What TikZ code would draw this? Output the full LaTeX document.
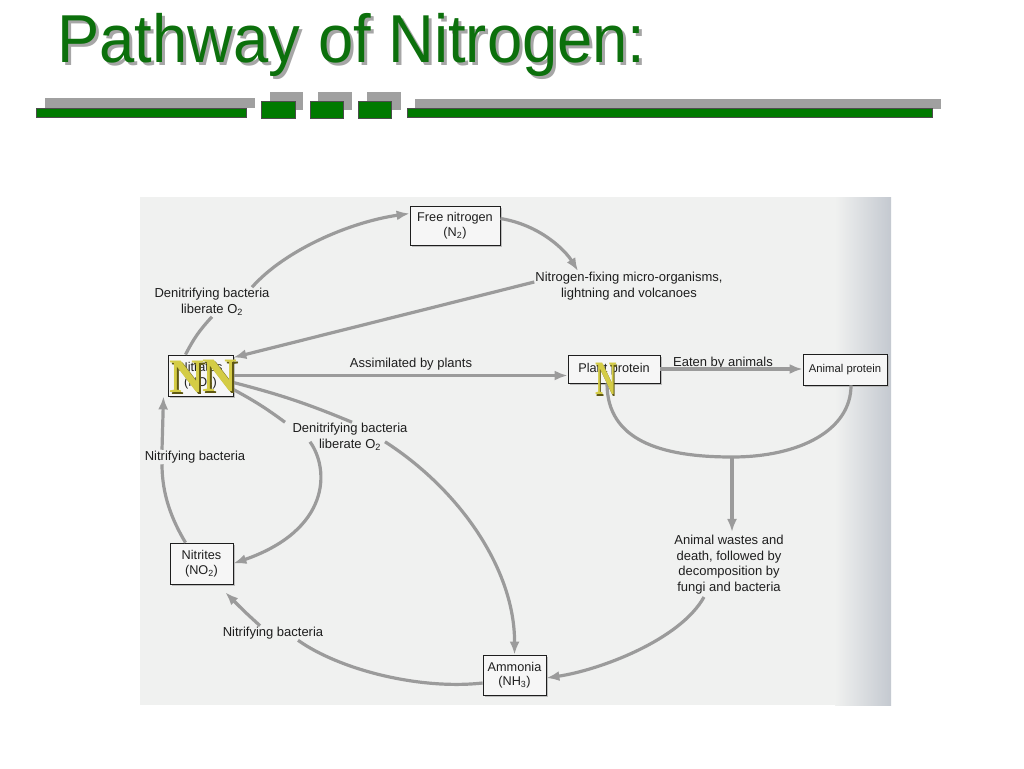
\documentclass[tikz,border=0pt]{standalone}
\usepackage{fontspec}
\setmainfont{Liberation Sans}
\newfontfamily\serifN{Liberation Serif}
\usetikzlibrary{arrows.meta,shadows}

\definecolor{titlegreen}{RGB}{12,112,12}
\definecolor{bargreen}{RGB}{0,122,0}
\definecolor{bargray}{RGB}{160,160,160}
\definecolor{arrowgray}{RGB}{155,155,155}
\definecolor{txt}{RGB}{30,30,30}
\definecolor{panel}{RGB}{240,241,240}
\definecolor{panelright}{RGB}{196,201,208}
\definecolor{Ngold}{RGB}{212,204,70}
\definecolor{Ndark}{RGB}{95,88,18}

\begin{document}
\begin{tikzpicture}[x=1pt,y=-1pt,
  box/.style={draw=txt, line width=0.8pt, fill={rgb,255:red,246;green,246;blue,246}, align=center,
    font=\fontsize{12.7}{14.5}\selectfont, text=txt, inner sep=2pt,
    drop shadow={shadow xshift=1.5pt,shadow yshift=-1.5pt,fill=gray!60,opacity=0.8}},
  lbl/.style={align=center, font=\fontsize{13}{15.5}\selectfont, text=txt, inner sep=1pt},
  flow/.style={draw=arrowgray, line width=3.2pt},
  arr/.style={flow, -{Latex[length=13pt,width=10pt]}},
  bigN/.style={font=\serifN\bfseries\fontsize{48}{48}\selectfont, inner sep=0pt}
]
\useasboundingbox (0,0) rectangle (1024,768);
\fill[white] (0,0) rectangle (1024,768);

% title
\node[anchor=base west, font=\fontsize{64}{70}\selectfont, text=gray!70, yscale=1.06, xscale=0.99] at (57,66) {Pathway of Nitrogen:};
\node[anchor=base west, font=\fontsize{64}{70}\selectfont, text=titlegreen, yscale=1.06, xscale=0.99] (title) at (54,63) {Pathway of Nitrogen:};

% decorative bars
\fill[bargray] (45,98) rectangle (255,108);
\fill[bargray] (270,92) rectangle (303,110);
\fill[bargray] (318,92) rectangle (352,110);
\fill[bargray] (367,92) rectangle (401,110);
\fill[bargray] (415,99) rectangle (941,109);
\filldraw[fill=bargreen, draw=black!70, line width=0.6pt] (36,108) rectangle (246,117);
\filldraw[fill=bargreen, draw=black!70, line width=0.6pt] (261,101) rectangle (295,118);
\filldraw[fill=bargreen, draw=black!70, line width=0.6pt] (310,101) rectangle (343,118);
\filldraw[fill=bargreen, draw=black!70, line width=0.6pt] (358,101) rectangle (391,118);
\filldraw[fill=bargreen, draw=black!70, line width=0.6pt] (407,108) rectangle (932,117);

% panel
\fill[panel] (140,197) rectangle (891,705);
\shade[left color=panel, right color=panelright] (835,197) rectangle (891,705);

% nodes
\node[box, minimum width=90pt, minimum height=39pt] (fn) at (455,225.5) {Free nitrogen\\(N\textsubscript{2})};
\node[lbl] (nfix) at (629,286) {Nitrogen-fixing micro-organisms,\\lightning and volcanoes};
\node[lbl] (den1) at (212,302) {Denitrifying bacteria\\liberate O\textsubscript{2}};
\node[box, minimum width=65pt, minimum height=41pt] (nitrates) at (200.5,375.5) {Nitrates\\(NO\textsubscript{3})};
\node[lbl] (assim) at (411,364) {Assimilated by plants};
\node[box, minimum width=92pt, minimum height=28pt] (plant) at (614,369) {Plant protein};
\node[lbl] (eaten) at (723,363) {Eaten by animals};
\node[box, minimum width=84pt, minimum height=31pt, font=\fontsize{11.3}{13}\selectfont] (animal) at (845,369.5) {Animal protein};
\node[lbl] (den2) at (350,437) {Denitrifying bacteria\\liberate O\textsubscript{2}};
\node[lbl] (nitr1) at (195,457) {Nitrifying bacteria};
\node[box, minimum width=63pt, minimum height=41pt] (nitrites) at (201.5,563.5) {Nitrites\\(NO\textsubscript{2})};
\node[lbl, inner sep=3pt] (wastes) at (729,564.5) {Animal wastes and\\death, followed by\\decomposition by\\fungi and bacteria};
\node[lbl] (nitr2) at (273,633) {Nitrifying bacteria};
\node[box, minimum width=63pt, minimum height=40pt] (ammonia) at (514.5,675) {Ammonia\\(NH\textsubscript{3})};
\coordinate (join) at (732,457);

% connectors
\draw[flow] ([xshift=-15pt]nitrates.north) to[bend left=8] (den1.south);
\draw[arr] ([xshift=40pt]den1.north) .. controls (285,250) and (350,222) .. ([yshift=12pt]fn.west);
\draw[arr] ([yshift=7pt]fn.east) .. controls (540,225) and (565,250) .. ([xshift=-51pt]nfix.north);
\draw[arr] ([yshift=4pt]nfix.west) -- ([yshift=18pt]nitrates.east);
\draw[arr] (nitrates.east) -- (nitrates.east -| plant.west);
\draw[arr] (plant.east) -- (plant.east -| animal.west);
\draw[flow] ([xshift=-7pt]plant.south) .. controls (607,440) and (660,457) .. (join)
  .. controls (800,457) and (851,430) .. ([xshift=6pt]animal.south);
\draw[arr] (join) -- (join |- wastes.north);
\draw[arr] ([xshift=-25pt]wastes.south) .. controls (680,640) and (600,670) .. ([yshift=-3pt]ammonia.east);
\draw[flow] ([yshift=-8pt]ammonia.west) .. controls (420,690) and (340,670) .. ([xshift=25pt]nitr2.south);
\draw[arr] ([xshift=-13pt]nitr2.north) .. controls (245,612) .. ([xshift=-8pt,yshift=-8pt]nitrites.south east);
\draw[flow] ([xshift=-16pt]nitrites.north) .. controls (172,520) and (162,495) .. ([xshift=-33pt]nitr1.south);
\draw[arr] ([xshift=-33pt]nitr1.north) -- ([xshift=-37pt]nitrates.south);
\draw[flow] ([yshift=-14pt]nitrates.east) to[bend left=4] ([xshift=-65pt]den2.north);
\draw[flow] ([yshift=-7pt]nitrates.east) to[bend left=4] ([xshift=2pt]den2.north);
\draw[arr] ([xshift=-40pt,yshift=10pt]den2.south) .. controls (330,470) and (330,530) .. (nitrites.east);
\draw[arr] ([xshift=35pt,yshift=10pt]den2.south) .. controls (460,490) and (515,570) .. (ammonia.north);

% decorative N glyphs (dark shadow, then gold face)
\node[bigN, text=Ndark] at (188.5,378.5) {N};
\node[bigN, text=Ndark] at (221.5,377.5) {N};
\node[bigN, text=Ndark, xscale=0.62] at (607.5,380.5) {N};
\node[bigN, text=Ngold] (nA) at (187,377) {N};
\node[bigN, text=Ngold] (nB) at (220,376) {N};
\node[bigN, text=Ngold, xscale=0.62] (nC) at (606,379) {N};
\end{tikzpicture}
\end{document}
